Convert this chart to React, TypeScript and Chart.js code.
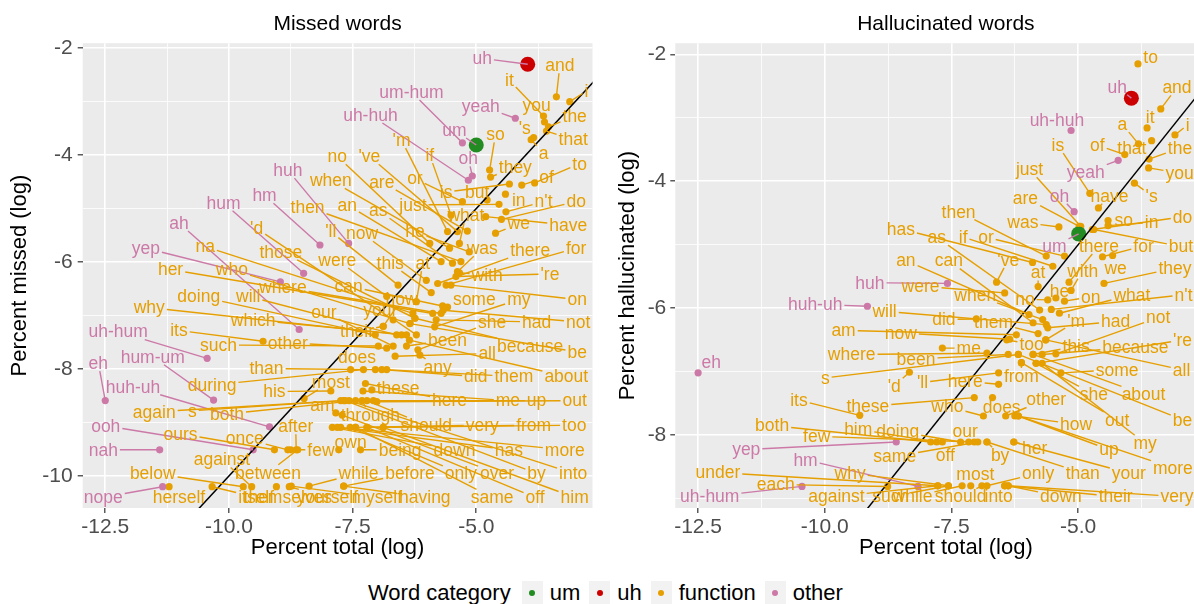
import React, { useEffect, useRef } from 'react';
import { Chart, registerables } from 'chart.js';

Chart.register(...registerables);

const FONT = '"Liberation Sans", Arial, Helvetica, sans-serif';
Chart.defaults.font.family = FONT;

// ---------- shared data ----------
const categories = ['um', 'uh', 'function', 'other'];
const categoryColors: Record<string, string> = { um: '#228B22', uh: '#CC0000', function: '#E69F00', other: '#CC79A7' };
const otherWords = ['yeah', 'um-hum', 'uh-huh', 'oh', 'huh', 'hm', 'hum', 'ah', 'yep', 'uh-hum', 'hum-um', 'eh', 'huh-uh', 'ooh', 'nah', 'nope'];

const xMajorTicks = [-12.5, -10, -7.5, -5];
const xMinorTicks = [-11.25, -8.75, -6.25, -3.75];
const missedYMajor = [-10, -8, -6, -4, -2];
const missedYMinor = [-9, -7, -5, -3];
const hallYMajor = [-8, -6, -4, -2];
const hallYMinor = [-9, -7, -5, -3];
const refLineX = [-14, -1];
const refLineY = [-14, -1];

// ---------- Missed words ----------
const missedWords = [
  'uh', 'um', 'and', 'i', 'it', 'you', 'the', 'that', "'s", 'a',
  'yeah', 'um-hum', 'uh-huh', 'oh', 'so', 'they', 'to', 'of', 'in', "n't",
  'do', 'we', 'have', 'but', 'is', 'or', 'if', "'m", "'ve", 'no',
  'when', 'are', 'just', 'what', 'an', 'as', 'then', 'he', "'ll", 'now',
  'was', 'there', 'for', 'were', 'this', 'at', 'with', "'re", 'huh', 'hm',
  'hum', 'ah', 'yep', "'d", 'na', 'those', 'who', 'her', 'where', 'can',
  'how', 'some', 'my', 'on', 'doing', 'will', 'why', 'which', 'its', 'uh-hum',
  'such', 'other', 'our', 'your', 'she', 'had', 'not', 'their', 'hum-um', 'eh',
  'than', 'been', 'all', 'because', 'be', 'does', 'any', 'did', 'them', 'about',
  'during', 'huh-uh', 'his', 'most', 'these', 'here', 'me', 'up', 'out', 'again',
  's', 'both', 'am', 'through', 'ooh', 'after', 'should', 'very', 'from', 'too',
  'ours', 'once', 'nah', 'against', 'below', 'between', 'few', 'own', 'being', 'down',
  'has', 'more', 'while', 'before', 'only', 'over', 'by', 'into', 'nope', 'herself',
  'itself', 'themselves', 'yourself', 'myself', 'having', 'same', 'off', 'him',
];
const missedX = [
  -3.96, -5.00, -3.38, -3.11, -3.64, -3.62, -3.54, -3.58, -3.84, -3.89,
  -4.21, -5.28, -5.16, -5.08, -4.73, -4.71, -3.82, -4.08, -4.41, -4.40,
  -4.49, -4.61, -4.81, -4.78, -4.33, -5.28, -5.51, -5.58, -5.38, -5.94,
  -5.54, -5.18, -4.54, -5.34, -5.71, -5.48, -5.31, -5.14, -6.58, -6.01,
  -5.38, -5.78, -5.61, -6.81, -5.91, -6.21, -5.34, -5.41, -7.58, -8.16,
  -8.49, -8.58, -8.96, -6.68, -6.28, -6.24, -6.34, -5.88, -5.71, -5.68,
  -6.88, -5.58, -5.84, -5.51, -7.04, -6.61, -6.51, -6.41, -9.31, -10.44,
  -6.98, -6.81, -6.68, -6.21, -6.18, -5.81, -5.67, -6.88, -10.31, -12.50,
  -7.04, -6.41, -6.64, -6.24, -6.34, -7.54, -6.14, -6.91, -6.81, -6.35,
  -7.28, -9.18, -7.94, -8.48, -7.11, -7.24, -7.29, -7.08, -7.01, -7.74,
  -7.68, -7.44, -7.84, -7.31, -9.51, -8.64, -7.21, -7.44, -7.21, -6.88,
  -9.08, -8.81, -11.40, -9.54, -9.71, -8.61, -8.75, -7.78, -7.34, -7.91,
  -7.81, -7.74, -8.38, -7.68, -7.55, -7.71, -7.65, -7.57, -11.34, -11.21,
  -10.34, -9.04, -8.78, -8.74, -7.68, -7.44, -7.21, -6.88,
];
const missedY = [
  -2.30, -3.81, -2.91, -3.00, -3.27, -3.38, -3.47, -3.55, -3.67, -3.71,
  -3.31, -3.77, -4.47, -4.39, -4.28, -4.41, -4.52, -4.56, -4.73, -5.06,
  -5.20, -5.46, -5.15, -4.84, -4.54, -4.87, -5.12, -5.43, -5.43, -5.65,
  -5.74, -5.42, -4.92, -5.65, -5.99, -6.02, -5.99, -5.81, -6.43, -6.34,
  -6.18, -6.40, -6.43, -6.64, -6.57, -6.74, -6.20, -6.27, -5.65, -5.68,
  -6.21, -7.26, -6.37, -7.08, -6.96, -7.05, -7.15, -6.96, -6.96, -6.82,
  -7.20, -6.84, -7.21, -6.43, -7.36, -7.36, -7.36, -7.36, -7.48, -7.80,
  -7.57, -7.61, -7.57, -7.36, -7.64, -7.08, -6.90, -7.20, -8.58, -8.59,
  -8.01, -7.57, -7.76, -7.05, -7.15, -8.01, -7.74, -8.01, -8.01, -7.46,
  -8.01, -9.08, -8.41, -8.55, -8.39, -8.27, -8.41, -8.59, -8.61, -8.59,
  -8.59, -8.59, -8.82, -8.59, -9.51, -9.51, -8.59, -9.09, -9.09, -9.09,
  -9.51, -9.51, -9.51, -10.20, -10.20, -9.51, -9.51, -9.51, -9.51, -9.09,
  -9.09, -9.09, -10.19, -10.19, -9.09, -8.86, -8.59, -8.59, -10.20, -10.20,
  -10.20, -10.20, -10.20, -10.19, -10.19, -9.09, -9.09, -9.09,
];
const missedLabelX = [
  -4.88, -5.44, -3.31, -2.77, -4.33, -3.78, -3.01, -3.04, -4.02, -3.64,
  -4.91, -6.31, -7.14, -5.16, -4.61, -4.21, -2.91, -3.58, -4.14, -3.64,
  -2.98, -4.14, -3.14, -4.98, -5.61, -6.24, -5.94, -6.51, -7.16, -7.81,
  -7.94, -6.91, -6.28, -5.21, -7.61, -6.98, -8.41, -6.24, -7.94, -7.31,
  -4.88, -3.91, -2.98, -7.81, -6.74, -6.08, -4.78, -3.51, -8.81, -9.28,
  -10.11, -11.01, -11.68, -9.44, -10.48, -8.95, -9.94, -11.18, -8.91, -7.58,
  -6.51, -5.04, -4.14, -2.96, -10.61, -9.61, -11.61, -9.51, -11.01, -12.24,
  -10.21, -8.81, -8.08, -6.94, -4.68, -3.78, -2.94, -7.41, -11.54, -12.64,
  -9.24, -5.58, -4.78, -3.91, -2.96, -7.41, -5.78, -5.01, -4.24, -3.18,
  -10.34, -11.94, -9.08, -7.94, -6.58, -5.54, -4.36, -3.78, -3.01, -11.51,
  -10.74, -10.04, -8.11, -7.14, -12.49, -8.65, -6.01, -4.88, -3.84, -3.02,
  -10.98, -9.68, -12.54, -10.14, -11.54, -9.21, -8.14, -7.54, -6.54, -5.44,
  -4.34, -3.21, -7.38, -6.34, -5.31, -4.58, -3.78, -3.04, -12.54, -11.01,
  -9.45, -8.81, -8.01, -7.01, -6.04, -4.68, -3.81, -3.01,
];
const missedLabelY = [
  -2.19, -3.53, -2.32, -2.80, -2.60, -3.07, -3.27, -3.71, -3.50, -3.97,
  -3.08, -2.82, -3.25, -4.06, -3.61, -4.22, -4.16, -4.41, -4.84, -4.87,
  -4.87, -5.28, -5.31, -4.69, -4.69, -4.44, -4.00, -3.72, -4.02, -4.02,
  -4.47, -4.50, -4.93, -5.12, -4.93, -5.03, -4.97, -5.43, -5.43, -5.46,
  -5.74, -5.78, -5.74, -5.96, -6.02, -6.02, -6.24, -6.22, -4.28, -4.75,
  -4.89, -5.27, -5.74, -5.37, -5.71, -5.81, -6.14, -6.14, -6.47, -6.45,
  -6.70, -6.70, -6.70, -6.70, -6.64, -6.64, -6.85, -7.08, -7.28, -7.30,
  -7.55, -7.51, -6.93, -6.90, -7.12, -7.12, -7.12, -7.30, -7.77, -7.89,
  -7.99, -7.46, -7.71, -7.57, -7.68, -7.78, -7.96, -8.14, -8.14, -8.14,
  -8.30, -8.33, -8.42, -8.24, -8.36, -8.59, -8.59, -8.59, -8.59, -8.80,
  -8.78, -8.84, -8.67, -8.86, -9.06, -9.07, -9.05, -9.05, -9.05, -9.05,
  -9.21, -9.30, -9.51, -9.69, -9.95, -9.94, -9.51, -9.36, -9.51, -9.51,
  -9.51, -9.51, -9.95, -9.95, -9.95, -9.95, -9.95, -9.95, -10.40, -10.40,
  -10.40, -10.40, -10.40, -10.40, -10.40, -10.40, -10.40, -10.40,
];

// ---------- Hallucinated words ----------
const hallWords = [
  'to', 'uh', 'and', 'it', 'i', 'a', 'uh-huh', 'is', 'of', 'that',
  'the', 'you', 'yeah', 'just', 'oh', 'have', "'s", 'are', 'then', 'was',
  'so', 'in', 'do', 'but', 'um', 'has', 'as', 'if', 'or', 'there',
  'for', 'an', 'can', "'ve", 'at', 'with', 'we', 'they', 'huh', 'were',
  'when', 'no', 'he', 'on', 'what', "n't", 'huh-uh', 'will', 'did', 'them',
  "'m", 'had', 'not', 'am', 'now', 'me', 'too', 'this', 'because', "'re",
  'where', 'been', 'eh', 's', "'d", "'ll", 'here', 'from', 'some', 'all',
  'its', 'these', 'who', 'does', 'other', 'she', 'about', 'out', 'be', 'how',
  'both', 'him', 'doing', 'our', 'few', 'yep', 'same', 'off', 'by', 'her',
  'up', 'my', 'hm', 'under', 'why', 'most', 'only', 'than', 'your', 'more',
  'each', 'uh-hum', 'against', 'such', 'while', 'should', 'into', 'down', 'their', 'very',
];
const hallX = [
  -3.82, -3.95, -3.37, -3.64, -3.09, -3.81, -5.14, -4.77, -4.08, -3.55,
  -3.60, -3.61, -4.21, -4.95, -5.08, -4.60, -3.89, -4.98, -5.63, -5.38,
  -4.41, -4.41, -4.72, -4.69, -4.99, -5.90, -5.76, -5.50, -5.27, -5.18,
  -4.52, -5.97, -5.89, -6.61, -5.79, -5.14, -4.32, -4.49, -7.58, -6.45,
  -5.70, -5.60, -5.44, -5.27, -5.37, -5.53, -9.16, -5.63, -7.01, -5.79,
  -5.64, -5.60, -5.44, -6.22, -6.35, -7.68, -6.41, -5.89, -5.71, -5.83,
  -6.80, -6.38, -12.50, -6.18, -8.33, -6.57, -6.57, -6.12, -5.34, -5.64,
  -9.31, -7.05, -6.87, -6.69, -6.43, -5.83, -5.89, -6.12, -6.18, -6.25,
  -7.91, -7.79, -7.32, -7.16, -7.05, -8.59, -6.98, -7.68, -6.80, -6.27,
  -6.18, -5.71, -8.16, -7.77, -7.56, -7.12, -6.80, -6.80, -6.27, -6.18,
  -8.76, -10.45, -7.77, -7.56, -7.29, -6.90, -6.45, -6.38, -6.45, -6.38,
];
const hallY = [
  -2.15, -2.69, -2.86, -3.16, -3.27, -3.41, -3.20, -4.19, -3.58, -3.36,
  -3.65, -3.79, -3.67, -4.71, -4.48, -4.42, -4.03, -4.71, -5.18, -4.72,
  -4.62, -4.70, -4.76, -4.76, -4.83, -5.28, -6.03, -5.34, -5.18, -5.59,
  -5.19, -6.10, -6.23, -5.59, -5.66, -5.72, -5.17, -5.61, -5.61, -5.76,
  -6.18, -5.87, -5.84, -5.89, -6.08, -6.02, -5.97, -6.26, -6.17, -6.40,
  -6.50, -6.31, -6.72, -6.42, -6.49, -6.63, -6.50, -6.73, -6.73, -6.87,
  -6.71, -6.73, -7.02, -6.73, -7.01, -7.02, -7.20, -6.86, -7.02, -6.50,
  -7.69, -7.41, -7.70, -7.41, -7.70, -6.87, -6.73, -6.86, -6.73, -7.70,
  -8.11, -8.11, -8.11, -8.11, -8.11, -8.11, -8.11, -8.11, -8.11, -8.11,
  -7.70, -6.87, -8.81, -8.80, -8.80, -8.80, -8.80, -8.11, -8.11, -7.70,
  -8.81, -8.81, -8.80, -8.80, -8.80, -8.80, -8.80, -8.80, -8.80, -8.80,
];
const hallLabelX = [
  -3.57, -4.23, -3.05, -3.58, -2.84, -4.13, -5.42, -5.40, -4.62, -3.94,
  -2.99, -3.00, -4.85, -5.96, -5.37, -4.38, -3.55, -6.04, -7.36, -6.09,
  -4.10, -3.55, -2.94, -2.97, -5.47, -8.50, -7.79, -7.27, -6.82, -4.59,
  -3.71, -8.40, -7.55, -6.38, -5.79, -4.91, -4.26, -3.09, -9.11, -8.11,
  -7.03, -6.05, -5.37, -4.75, -3.94, -2.92, -10.19, -8.82, -7.65, -6.67,
  -5.04, -4.26, -3.42, -9.63, -8.50, -7.16, -5.92, -5.04, -3.87, -2.94,
  -9.47, -8.20, -12.24, -9.99, -8.63, -8.07, -7.23, -6.12, -4.23, -2.96,
  -10.51, -9.15, -7.58, -6.51, -5.63, -4.69, -3.71, -4.23, -2.94, -5.04,
  -11.04, -9.34, -8.56, -7.23, -10.16, -11.55, -8.62, -7.62, -6.54, -5.86,
  -4.39, -3.68, -10.38, -12.11, -9.50, -7.03, -5.79, -4.91, -4.00, -3.13,
  -10.97, -12.27, -9.77, -8.70, -8.27, -7.32, -6.57, -5.34, -4.26, -3.05,
];
const hallLabelY = [
  -2.04, -2.51, -2.52, -2.99, -3.11, -3.10, -3.03, -3.43, -3.43, -3.48,
  -3.48, -3.87, -3.86, -3.81, -4.23, -4.23, -4.23, -4.26, -4.48, -4.65,
  -4.62, -4.65, -4.56, -5.03, -5.02, -4.75, -4.88, -4.88, -4.88, -5.02,
  -5.02, -5.25, -5.25, -5.24, -5.44, -5.41, -5.37, -5.37, -5.60, -5.65,
  -5.79, -5.86, -5.74, -5.82, -5.79, -5.79, -5.94, -6.05, -6.18, -6.22,
  -6.21, -6.21, -6.15, -6.35, -6.39, -6.63, -6.57, -6.60, -6.61, -6.50,
  -6.73, -6.80, -6.85, -7.10, -7.23, -7.17, -7.15, -7.07, -6.97, -6.97,
  -7.45, -7.55, -7.55, -7.56, -7.44, -7.36, -7.36, -7.76, -7.76, -7.83,
  -7.85, -7.91, -7.94, -7.94, -8.02, -8.23, -8.34, -8.31, -8.32, -8.20,
  -8.23, -8.13, -8.39, -8.59, -8.60, -8.62, -8.60, -8.60, -8.60, -8.52,
  -8.78, -8.97, -8.97, -8.97, -8.97, -8.97, -8.97, -8.97, -8.97, -8.97,
];

// ---------- helpers ----------
const LABEL_SIZE = 17.5;
const PLOT_BOTTOM = 508;

const categoryOf = (w: string) =>
  w === 'uh' ? 'uh' : w === 'um' ? 'um' : otherWords.includes(w) ? 'other' : 'function';
const labelColor = (w: string) =>
  categoryOf(w) === 'function' ? categoryColors.function : categoryColors.other;
const isIn = (arr: number[], v: any) =>
  typeof v === 'number' && arr.some((a) => Math.abs(a - v) < 1e-6);
const ticksIn = (vals: number[], min: number, max: number) =>
  vals.filter((v) => v >= min && v <= max).sort((a, b) => a - b).map((v) => ({ value: v }));

type Spec = {
  title: string; yTitle: string;
  words: string[]; x: number[]; y: number[]; lx: number[]; ly: number[];
  xMin: number; xMax: number; yMin: number; yMax: number;
  yMajor: number[]; yMinor: number[];
  left: number; width: number; height: number;
  yAxisWidth: number; yTitlePad: number; yTickPad: number;
};

const bgPlugin = {
  id: 'panelBg',
  beforeDraw(chart: any) {
    const { ctx, chartArea: a } = chart;
    ctx.save();
    ctx.fillStyle = '#EBEBEB';
    ctx.fillRect(a.left, a.top, a.right - a.left, a.bottom - a.top);
    ctx.restore();
  },
};

const makeLabelPlugin = (spec: Spec) => ({
  id: 'repelLabels',
  afterDatasetsDraw(chart: any) {
    const { ctx, chartArea: a, scales } = chart;
    const xs = scales.x;
    const ys = scales.y;
    ctx.save();
    ctx.beginPath();
    ctx.rect(a.left, a.top, a.right - a.left, a.bottom - a.top);
    ctx.clip();
    ctx.font = `${LABEL_SIZE}px ${FONT}`;
    ctx.textAlign = 'center';
    ctx.textBaseline = 'middle';
    const items = spec.words.map((w, i) => ({
      w,
      px: xs.getPixelForValue(spec.x[i]),
      py: ys.getPixelForValue(spec.y[i]),
      lx: xs.getPixelForValue(spec.lx[i]),
      ly: ys.getPixelForValue(spec.ly[i]),
      width: ctx.measureText(w).width,
      color: labelColor(w),
    }));
    ctx.lineWidth = 1.4;
    items.forEach((it) => {
      const hw = it.width / 2 + 2;
      const hh = 8;
      const dx = it.px - it.lx;
      const dy = it.py - it.ly;
      if (Math.abs(dx) <= hw && Math.abs(dy) <= hh) return;
      const t = Math.min(
        dx !== 0 ? hw / Math.abs(dx) : Infinity,
        dy !== 0 ? hh / Math.abs(dy) : Infinity,
      );
      const ex = it.lx + dx * t;
      const ey = it.ly + dy * t;
      if (Math.hypot(it.px - ex, it.py - ey) < 5) return;
      ctx.strokeStyle = it.color;
      ctx.beginPath();
      ctx.moveTo(ex, ey);
      ctx.lineTo(it.px, it.py);
      ctx.stroke();
    });
    items.forEach((it) => {
      ctx.fillStyle = it.color;
      ctx.fillText(it.w, it.lx, it.ly + 1);
    });
    ctx.restore();
  },
});

const buildConfig = (spec: Spec): any => {
  const pts = (cat: string) =>
    spec.words
      .map((w, i) => ({ w, i }))
      .filter((o) => categoryOf(o.w) === cat)
      .map((o) => ({ x: spec.x[o.i], y: spec.y[o.i] }));
  const pointDs = (cat: string, r: number) => ({
    label: cat,
    data: pts(cat),
    backgroundColor: categoryColors[cat],
    borderColor: categoryColors[cat],
    pointRadius: r,
    pointHoverRadius: r,
    borderWidth: 0,
    showLine: false,
  });
  return {
    type: 'scatter',
    data: {
      datasets: [
        {
          label: 'reference',
          data: refLineX.map((v, i) => ({ x: v, y: refLineY[i] })),
          showLine: true,
          borderColor: '#000000',
          borderWidth: 1.5,
          pointRadius: 0,
          fill: false,
        },
        pointDs('uh', 7.5),
        pointDs('um', 7.5),
        pointDs('other', 3.6),
        pointDs('function', 3.6),
      ],
    },
    options: {
      responsive: false,
      animation: false,
      devicePixelRatio: 1,
      events: [],
      layout: { padding: { left: 0, right: 2, top: 0, bottom: 0 } },
      plugins: {
        legend: { display: false },
        tooltip: { enabled: false },
        title: {
          display: true,
          text: spec.title,
          fullSize: false,
          color: '#000000',
          font: { size: 21, weight: 'normal', family: FONT },
          padding: { top: 12, bottom: 6 },
        },
      },
      scales: {
        x: {
          type: 'linear',
          min: spec.xMin,
          max: spec.xMax,
          afterBuildTicks: (s: any) => {
            s.ticks = ticksIn(xMajorTicks.concat(xMinorTicks), spec.xMin, spec.xMax);
          },
          afterFit: (s: any) => {
            s.height = spec.height - PLOT_BOTTOM;
          },
          ticks: {
            autoSkip: false,
            maxRotation: 0,
            minRotation: 0,
            padding: 2,
            color: '#4D4D4D',
            font: { size: 21, family: FONT },
            callback: (v: any) => (isIn(xMajorTicks, Number(v)) ? Number(v).toFixed(1) : ''),
          },
          grid: {
            color: '#FFFFFF',
            lineWidth: (c: any) => (isIn(xMajorTicks, c.tick && c.tick.value) ? 1.6 : 0.8),
            drawTicks: true,
            tickLength: 5,
            tickWidth: 1.2,
            tickColor: (c: any) =>
              isIn(xMajorTicks, c.tick && c.tick.value) ? '#333333' : 'rgba(0,0,0,0)',
          },
          border: { display: false },
          title: {
            display: true,
            text: 'Percent total (log)',
            color: '#000000',
            font: { size: 22, family: FONT },
            padding: { top: 0, bottom: 9 },
          },
        },
        y: {
          type: 'linear',
          min: spec.yMin,
          max: spec.yMax,
          afterBuildTicks: (s: any) => {
            s.ticks = ticksIn(spec.yMajor.concat(spec.yMinor), spec.yMin, spec.yMax);
          },
          afterFit: (s: any) => {
            s.width = spec.yAxisWidth;
          },
          ticks: {
            autoSkip: false,
            padding: spec.yTickPad,
            color: '#4D4D4D',
            font: { size: 21, family: FONT },
            callback: (v: any) => (isIn(spec.yMajor, Number(v)) ? String(Number(v)) : ''),
          },
          grid: {
            color: '#FFFFFF',
            lineWidth: (c: any) => (isIn(spec.yMajor, c.tick && c.tick.value) ? 1.6 : 0.8),
            drawTicks: true,
            tickLength: 5,
            tickWidth: 1.2,
            tickColor: (c: any) =>
              isIn(spec.yMajor, c.tick && c.tick.value) ? '#333333' : 'rgba(0,0,0,0)',
          },
          border: { display: false },
          title: {
            display: true,
            text: spec.yTitle,
            color: '#000000',
            font: { size: 22, family: FONT },
            padding: { top: spec.yTitlePad, bottom: 0 },
          },
        },
      },
    },
    plugins: [bgPlugin, makeLabelPlugin(spec)],
  };
};

const missedSpec: Spec = {
  title: 'Missed words',
  yTitle: 'Percent missed (log)',
  words: missedWords, x: missedX, y: missedY, lx: missedLabelX, ly: missedLabelY,
  xMin: -12.956, xMax: -2.65, yMin: -10.598, yMax: -1.907,
  yMajor: missedYMajor, yMinor: missedYMinor,
  left: 0, width: 600, height: 570,
  yAxisWidth: 82.7, yTitlePad: 6.8, yTickPad: 5,
};

const hallSpec: Spec = {
  title: 'Hallucinated words',
  yTitle: 'Percent hallucinated (log)',
  words: hallWords, x: hallX, y: hallY, lx: hallLabelX, ly: hallLabelY,
  xMin: -12.95, xMax: -2.27, yMin: -9.15, yMax: -1.824,
  yMajor: hallYMajor, yMinor: hallYMinor,
  left: 600, width: 624, height: 570,
  yAxisWidth: 75.3, yTitlePad: 14.8, yTickPad: 4,
};

function Panel({ spec }: { spec: Spec }) {
  const ref = useRef<HTMLCanvasElement>(null);
  useEffect(() => {
    if (!ref.current) return;
    const chart = new Chart(ref.current, buildConfig(spec));
    return () => chart.destroy();
  }, [spec]);
  return (
    <canvas
      ref={ref}
      width={spec.width}
      height={spec.height}
      style={{ position: 'absolute', left: spec.left, top: 0, width: spec.width, height: spec.height }}
    />
  );
}

function Legend() {
  return (
    <div
      style={{
        position: 'absolute',
        left: 368,
        top: 581,
        height: 23,
        display: 'flex',
        alignItems: 'center',
        fontFamily: FONT,
        fontSize: 22,
        color: '#000000',
        whiteSpace: 'nowrap',
      }}
    >
      <span style={{ marginRight: 11 }}>Word category</span>
      {categories.map((c) => (
        <React.Fragment key={c}>
          <span
            style={{
              width: 21,
              height: 23,
              background: '#F2F2F2',
              display: 'inline-flex',
              alignItems: 'center',
              justifyContent: 'center',
              marginRight: 7,
            }}
          >
            <span
              style={{ width: 6, height: 6, borderRadius: 3, background: categoryColors[c], display: 'block' }}
            />
          </span>
          <span style={{ marginRight: 9 }}>{c}</span>
        </React.Fragment>
      ))}
    </div>
  );
}

export default function App() {
  return (
    <div
      style={{
        position: 'fixed',
        left: 0,
        top: 0,
        width: 1194,
        height: 604,
        overflow: 'hidden',
        background: '#FFFFFF',
      }}
    >
      <Panel spec={missedSpec} />
      <Panel spec={hallSpec} />
      <Legend />
    </div>
  );
}
